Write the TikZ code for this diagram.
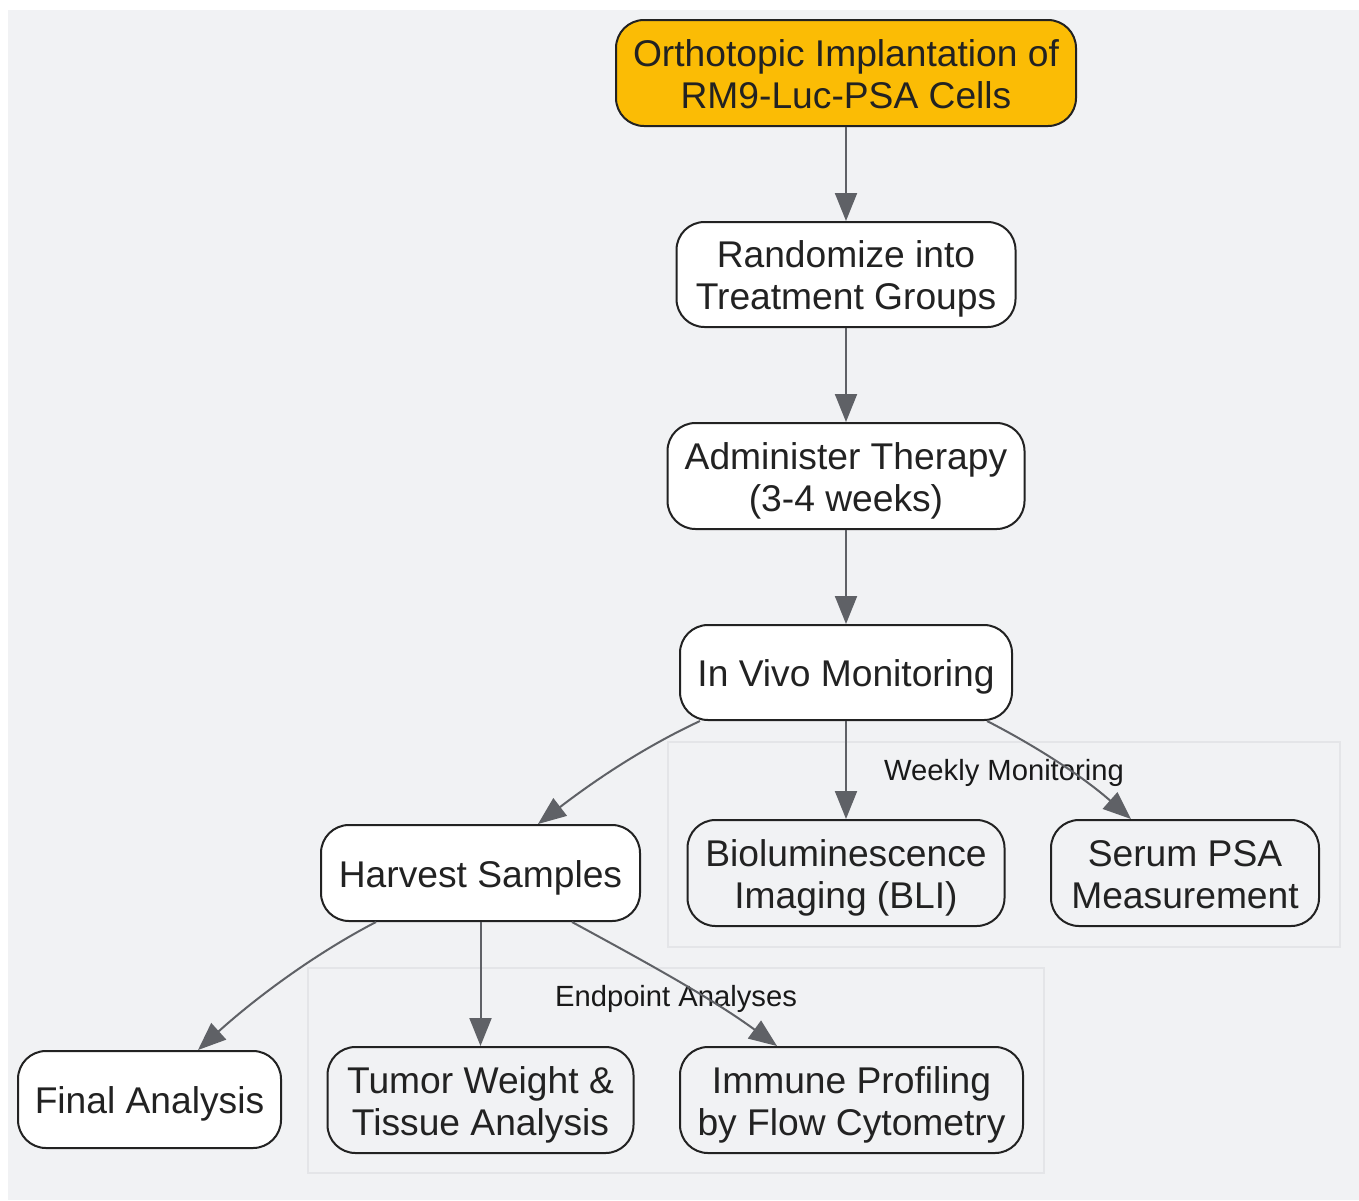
\documentclass[tikz,border=0pt]{standalone}
\usepackage{fontspec}
\setmainfont{Liberation Sans}
\usetikzlibrary{arrows.meta}
\definecolor{bgc}{HTML}{F1F2F4}
\definecolor{clb}{HTML}{E4E5E8}
\definecolor{ylw}{HTML}{FBBC05}
\definecolor{edg}{HTML}{5F6166}
\definecolor{txt}{HTML}{222222}
\newcommand\ttop{\rule{0pt}{36pt}}
\newcommand\bbot{\rule[-8pt]{0pt}{8pt}}
\tikzset{
  box/.style={draw=txt, line width=2pt, rounded corners=28pt, fill=white, text=txt,
    align=center, inner sep=0pt, font=\fontsize{37.2}{42}\selectfont},
  subbox/.style={box, fill=bgc},
  cluster/.style={draw=clb, line width=2pt, fill=bgc},
  clabel/.style={text=black!90, inner sep=0pt, font=\fontsize{29.2}{33}\selectfont},
  link/.style={draw=edg, line width=2pt, -{Triangle[length=28pt,width=22pt]}}
}
\begin{document}
\begin{tikzpicture}[x=1pt,y=-1pt]
\useasboundingbox (0,0) rectangle (1359,1200);
\fill[bgc] (8,10) rectangle (1359,1200);
% clusters
\draw[cluster] (668,742) rectangle (1340,947);
\draw[cluster] (308,968) rectangle (1044,1173);
\node[clabel] (lweek) at (1004,773) {Weekly Monitoring};
\node[clabel] (lend) at (676,999) {Endpoint Analyses};
% nodes
\node[box, fill=ylw, minimum width=460pt, minimum height=106pt] (ortho) at (846,73) {\ttop Orthotopic Implantation of\\RM9-Luc-PSA Cells\bbot};
\node[box, minimum width=339pt, minimum height=105pt] (rand) at (846,274.5) {\ttop Randomize into\\Treatment Groups\bbot};
\node[box, minimum width=357pt, minimum height=106pt] (admin) at (846,476) {\ttop Administer Therapy\\(3-4 weeks)\bbot};
\node[box, minimum width=332pt, minimum height=95pt] (vivo) at (846,672.5) {\ttop In Vivo Monitoring\bbot};
\node[box, minimum width=319pt, minimum height=96pt] (harv) at (480.5,873) {\ttop Harvest Samples\bbot};
\node[subbox, minimum width=317pt, minimum height=106pt] (bli) at (846,873) {\ttop Bioluminescence\\Imaging (BLI)\bbot};
\node[subbox, minimum width=268pt, minimum height=106pt] (psa) at (1185,873) {\ttop Serum PSA\\Measurement\bbot};
\node[box, minimum width=263pt, minimum height=97pt] (final) at (149.5,1099.5) {\ttop Final Analysis\bbot};
\node[subbox, minimum width=306pt, minimum height=106pt] (tumor) at (480.5,1100) {\ttop Tumor Weight \&\\Tissue Analysis\bbot};
\node[subbox, minimum width=343pt, minimum height=106pt] (immune) at (851.5,1100) {\ttop Immune Profiling\\by Flow Cytometry\bbot};
% edges
\draw[link] (ortho) -- (rand);
\draw[link] (rand) -- (admin);
\draw[link] (admin) -- (vivo);
\draw[link] (vivo) -- (bli);
\draw[link] ([xshift=-146pt]vivo.south) .. controls ([xshift=-206pt,yshift=-28pt]vivo.south) and ([xshift=109.5pt,yshift=40pt]harv.north) .. ([xshift=57.5pt]harv.north);
\draw[link] ([xshift=141pt]vivo.south) .. controls ([xshift=184pt,yshift=-22pt]vivo.south) and ([xshift=-105pt,yshift=45pt]psa.north) .. ([xshift=-54pt]psa.north);
\draw[link] (harv) -- (tumor);
\draw[link] ([xshift=-104.5pt]harv.south) .. controls ([xshift=-160.5pt,yshift=-29pt]harv.south) and ([xshift=110.5pt,yshift=56pt]final.north) .. ([xshift=48.5pt]final.north);
\draw[link] ([xshift=91.5pt]harv.south) .. controls ([xshift=159.5pt,yshift=-37pt]harv.south) and ([xshift=-141.5pt,yshift=49pt]immune.north) .. ([xshift=-74.5pt]immune.north);
\end{tikzpicture}
\end{document}
